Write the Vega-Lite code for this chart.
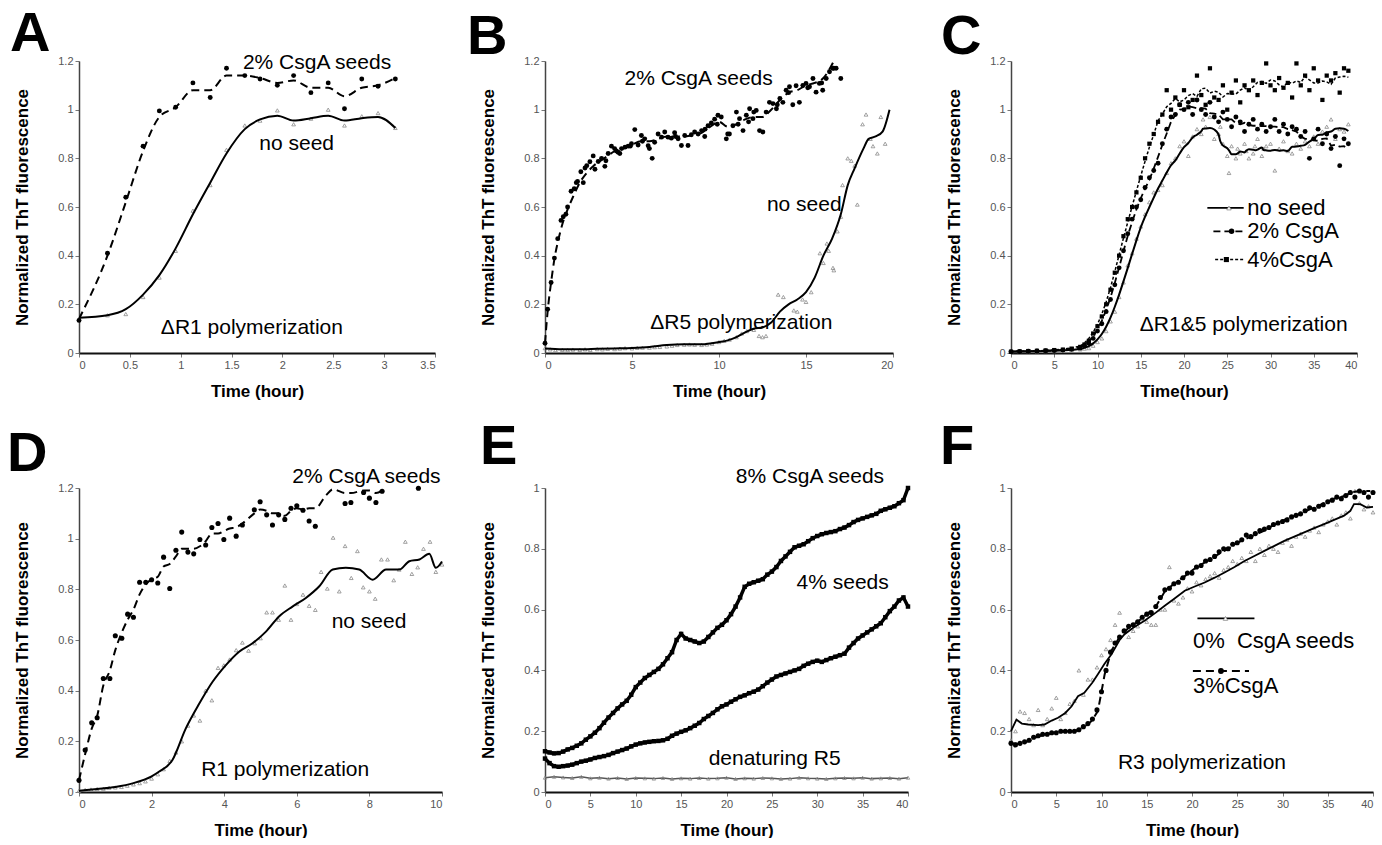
{
"$schema":"https://vega.github.io/schema/vega-lite/v6.json",
"padding":{"left":7,"top":6,"right":0,"bottom":0},
"background":"#ffffff",
"config":{"view":{"stroke":null},"font":"Liberation Sans",
"axis":{"grid":false,"labelFont":"Liberation Sans","labelFontSize":11,"labelColor":"#555","tickColor":"#777","tickSize":4,"titleFont":"Liberation Sans","titleFontSize":17,"titleFontWeight":"bold","titleColor":"#000"},
"axisX":{"domainColor":"#111","domainWidth":2,"titlePadding":13},
"axisY":{"domainColor":"#444","domainWidth":1.5,"titlePadding":26}},
"datasets":{
"A":[
{"s":"s","t":0,"v":0.134},{"s":"s","t":0.28,"v":0.41},{"s":"s","t":0.46,"v":0.64},{"s":"s","t":0.63,"v":0.85},{"s":"s","t":0.79,"v":0.995},{"s":"s","t":0.95,"v":1.01},{"s":"s","t":1.12,"v":1.11},{"s":"s","t":1.29,"v":1.05},{"s":"s","t":1.45,"v":1.17},{"s":"s","t":1.63,"v":1.14},{"s":"s","t":1.78,"v":1.126},{"s":"s","t":1.95,"v":1.1},{"s":"s","t":2.11,"v":1.14},{"s":"s","t":2.28,"v":1.07},{"s":"s","t":2.45,"v":1.11},{"s":"s","t":2.61,"v":1.004},{"s":"s","t":2.78,"v":1.126},{"s":"s","t":2.94,"v":1.096},{"s":"s","t":3.11,"v":1.126},
{"s":"sL","t":0,"v":0.14},{"s":"sL","t":0.28,"v":0.4},{"s":"sL","t":0.46,"v":0.62},{"s":"sL","t":0.63,"v":0.83},{"s":"sL","t":0.79,"v":0.97},{"s":"sL","t":0.95,"v":1.01},{"s":"sL","t":1.12,"v":1.08},{"s":"sL","t":1.29,"v":1.08},{"s":"sL","t":1.45,"v":1.14},{"s":"sL","t":1.63,"v":1.14},{"s":"sL","t":1.78,"v":1.13},{"s":"sL","t":1.95,"v":1.11},{"s":"sL","t":2.11,"v":1.12},{"s":"sL","t":2.28,"v":1.09},{"s":"sL","t":2.45,"v":1.09},{"s":"sL","t":2.61,"v":1.055},{"s":"sL","t":2.78,"v":1.09},{"s":"sL","t":2.94,"v":1.1},{"s":"sL","t":3.11,"v":1.13},
{"s":"n","t":0.28,"v":0.155},{"s":"n","t":0.46,"v":0.16},{"s":"n","t":0.63,"v":0.23},{"s":"n","t":0.79,"v":0.31},{"s":"n","t":0.95,"v":0.42},{"s":"n","t":1.12,"v":0.585},{"s":"n","t":1.29,"v":0.69},{"s":"n","t":1.45,"v":0.835},{"s":"n","t":1.63,"v":0.935},{"s":"n","t":1.78,"v":0.955},{"s":"n","t":1.95,"v":0.997},{"s":"n","t":2.11,"v":0.94},{"s":"n","t":2.28,"v":0.963},{"s":"n","t":2.45,"v":1.0},{"s":"n","t":2.61,"v":0.935},{"s":"n","t":2.78,"v":0.973},{"s":"n","t":2.94,"v":0.986},{"s":"n","t":3.11,"v":0.925},
{"s":"nL","t":0,"v":0.145},{"s":"nL","t":0.28,"v":0.155},{"s":"nL","t":0.46,"v":0.18},{"s":"nL","t":0.63,"v":0.24},{"s":"nL","t":0.79,"v":0.32},{"s":"nL","t":0.95,"v":0.43},{"s":"nL","t":1.12,"v":0.57},{"s":"nL","t":1.29,"v":0.7},{"s":"nL","t":1.45,"v":0.82},{"s":"nL","t":1.63,"v":0.92},{"s":"nL","t":1.78,"v":0.96},{"s":"nL","t":1.95,"v":0.975},{"s":"nL","t":2.11,"v":0.955},{"s":"nL","t":2.28,"v":0.965},{"s":"nL","t":2.45,"v":0.975},{"s":"nL","t":2.61,"v":0.955},{"s":"nL","t":2.78,"v":0.965},{"s":"nL","t":2.94,"v":0.97},{"s":"nL","t":3.11,"v":0.925}
],
"B":[
{"s":"s","t":0,"v":0.04},{"s":"s","t":0.15,"v":0.18},{"s":"s","t":0.35,"v":0.29},{"s":"s","t":0.54,"v":0.39},{"s":"s","t":0.73,"v":0.47},{"s":"s","t":0.92,"v":0.545},{"s":"s","t":1.05,"v":0.56},{"s":"s","t":1.2,"v":0.57},{"s":"s","t":1.3,"v":0.6},{"s":"s","t":1.5,"v":0.665},{"s":"s","t":1.68,"v":0.675},{"s":"s","t":1.8,"v":0.7},{"s":"s","t":1.87,"v":0.705},{"s":"s","t":2.06,"v":0.745},{"s":"s","t":2.2,"v":0.7},{"s":"s","t":2.3,"v":0.76},{"s":"s","t":2.4,"v":0.77},{"s":"s","t":2.58,"v":0.786},{"s":"s","t":2.77,"v":0.81},{"s":"s","t":2.87,"v":0.755},{"s":"s","t":3.06,"v":0.787},{"s":"s","t":3.25,"v":0.8},{"s":"s","t":3.44,"v":0.767},{"s":"s","t":3.5,"v":0.79},{"s":"s","t":3.63,"v":0.82},{"s":"s","t":3.82,"v":0.85},{"s":"s","t":4.0,"v":0.84},{"s":"s","t":4.1,"v":0.83},{"s":"s","t":4.2,"v":0.825},{"s":"s","t":4.3,"v":0.82},{"s":"s","t":4.4,"v":0.84},{"s":"s","t":4.6,"v":0.846},{"s":"s","t":4.78,"v":0.85},{"s":"s","t":4.9,"v":0.85},{"s":"s","t":4.97,"v":0.86},{"s":"s","t":5.16,"v":0.918},{"s":"s","t":5.35,"v":0.855},{"s":"s","t":5.54,"v":0.894},{"s":"s","t":5.6,"v":0.87},{"s":"s","t":5.73,"v":0.88},{"s":"s","t":5.93,"v":0.852},{"s":"s","t":6.0,"v":0.84},{"s":"s","t":6.16,"v":0.8},{"s":"s","t":6.3,"v":0.866},{"s":"s","t":6.5,"v":0.9},{"s":"s","t":6.7,"v":0.887},{"s":"s","t":6.88,"v":0.908},{"s":"s","t":7.07,"v":0.887},{"s":"s","t":7.26,"v":0.883},{"s":"s","t":7.45,"v":0.905},{"s":"s","t":7.5,"v":0.89},{"s":"s","t":7.65,"v":0.88},{"s":"s","t":7.84,"v":0.853},{"s":"s","t":8.03,"v":0.894},{"s":"s","t":8.22,"v":0.853},{"s":"s","t":8.41,"v":0.897},{"s":"s","t":8.6,"v":0.908},{"s":"s","t":8.8,"v":0.9},{"s":"s","t":9.0,"v":0.914},{"s":"s","t":9.18,"v":0.89},{"s":"s","t":9.2,"v":0.92},{"s":"s","t":9.37,"v":0.934},{"s":"s","t":9.56,"v":0.945},{"s":"s","t":9.75,"v":0.961},{"s":"s","t":9.9,"v":0.94},{"s":"s","t":9.94,"v":0.977},{"s":"s","t":10.13,"v":0.97},{"s":"s","t":10.42,"v":0.88},{"s":"s","t":10.5,"v":0.9},{"s":"s","t":10.6,"v":0.9},{"s":"s","t":10.8,"v":0.934},{"s":"s","t":11.0,"v":0.99},{"s":"s","t":11.1,"v":0.94},{"s":"s","t":11.18,"v":0.963},{"s":"s","t":11.38,"v":0.914},{"s":"s","t":11.57,"v":0.977},{"s":"s","t":11.7,"v":0.95},{"s":"s","t":11.76,"v":1.004},{"s":"s","t":11.95,"v":0.963},{"s":"s","t":12.0,"v":0.99},{"s":"s","t":12.14,"v":0.997},{"s":"s","t":12.33,"v":0.914},{"s":"s","t":12.52,"v":0.908},{"s":"s","t":12.71,"v":0.99},{"s":"s","t":12.9,"v":1.03},{"s":"s","t":13.1,"v":1.025},{"s":"s","t":13.3,"v":1.004},{"s":"s","t":13.35,"v":1.02},{"s":"s","t":13.5,"v":1.046},{"s":"s","t":13.67,"v":1.03},{"s":"s","t":13.86,"v":1.08},{"s":"s","t":14.0,"v":1.07},{"s":"s","t":14.05,"v":1.094},{"s":"s","t":14.24,"v":1.02},{"s":"s","t":14.43,"v":1.098},{"s":"s","t":14.62,"v":1.03},{"s":"s","t":14.82,"v":1.1},{"s":"s","t":15.0,"v":1.108},{"s":"s","t":15.1,"v":1.09},{"s":"s","t":15.2,"v":1.094},{"s":"s","t":15.4,"v":1.128},{"s":"s","t":15.58,"v":1.072},{"s":"s","t":15.77,"v":1.108},{"s":"s","t":15.9,"v":1.11},{"s":"s","t":15.96,"v":1.08},{"s":"s","t":16.16,"v":1.128},{"s":"s","t":16.35,"v":1.156},{"s":"s","t":16.54,"v":1.17},{"s":"s","t":16.6,"v":1.17},{"s":"s","t":16.73,"v":1.17},{"s":"s","t":17.0,"v":1.128},
{"s":"sL","t":0,"v":0.04},{"s":"sL","t":0.15,"v":0.17},{"s":"sL","t":0.35,"v":0.29},{"s":"sL","t":0.55,"v":0.39},{"s":"sL","t":0.75,"v":0.46},{"s":"sL","t":1,"v":0.53},{"s":"sL","t":1.3,"v":0.59},{"s":"sL","t":1.6,"v":0.64},{"s":"sL","t":2,"v":0.7},{"s":"sL","t":2.4,"v":0.74},{"s":"sL","t":2.8,"v":0.77},{"s":"sL","t":3.2,"v":0.79},{"s":"sL","t":3.6,"v":0.81},{"s":"sL","t":4,"v":0.83},{"s":"sL","t":4.5,"v":0.84},{"s":"sL","t":5,"v":0.855},{"s":"sL","t":5.5,"v":0.87},{"s":"sL","t":6,"v":0.87},{"s":"sL","t":6.5,"v":0.88},{"s":"sL","t":7,"v":0.89},{"s":"sL","t":7.5,"v":0.89},{"s":"sL","t":8,"v":0.89},{"s":"sL","t":8.5,"v":0.895},{"s":"sL","t":9,"v":0.905},{"s":"sL","t":9.5,"v":0.93},{"s":"sL","t":10,"v":0.95},{"s":"sL","t":10.5,"v":0.93},{"s":"sL","t":11,"v":0.94},{"s":"sL","t":11.5,"v":0.96},{"s":"sL","t":12,"v":0.97},{"s":"sL","t":12.5,"v":0.97},{"s":"sL","t":13,"v":1.0},{"s":"sL","t":13.5,"v":1.04},{"s":"sL","t":14,"v":1.07},{"s":"sL","t":14.5,"v":1.08},{"s":"sL","t":15,"v":1.1},{"s":"sL","t":15.5,"v":1.11},{"s":"sL","t":16,"v":1.13},{"s":"sL","t":16.6,"v":1.2},
{"s":"n","t":0,"v":0.02},{"s":"n","t":0.3,"v":0.015},{"s":"n","t":0.6,"v":0.012},{"s":"n","t":1,"v":0.013},{"s":"n","t":1.3,"v":0.012},{"s":"n","t":1.6,"v":0.014},{"s":"n","t":2,"v":0.013},{"s":"n","t":2.3,"v":0.015},{"s":"n","t":2.6,"v":0.013},{"s":"n","t":3,"v":0.016},{"s":"n","t":3.3,"v":0.015},{"s":"n","t":3.6,"v":0.017},{"s":"n","t":4,"v":0.016},{"s":"n","t":4.3,"v":0.018},{"s":"n","t":4.6,"v":0.02},{"s":"n","t":5,"v":0.019},{"s":"n","t":5.3,"v":0.021},{"s":"n","t":5.6,"v":0.022},{"s":"n","t":6,"v":0.022},{"s":"n","t":6.3,"v":0.024},{"s":"n","t":6.6,"v":0.025},{"s":"n","t":7,"v":0.027},{"s":"n","t":7.3,"v":0.03},{"s":"n","t":7.6,"v":0.033},{"s":"n","t":8,"v":0.034},{"s":"n","t":8.3,"v":0.035},{"s":"n","t":8.6,"v":0.034},{"s":"n","t":9,"v":0.033},{"s":"n","t":9.3,"v":0.035},{"s":"n","t":9.6,"v":0.038},{"s":"n","t":10,"v":0.045},{"s":"n","t":10.3,"v":0.05},{"s":"n","t":10.6,"v":0.055},{"s":"n","t":11,"v":0.065},{"s":"n","t":11.3,"v":0.08},{"s":"n","t":11.6,"v":0.09},{"s":"n","t":12,"v":0.095},{"s":"n","t":12.3,"v":0.07},{"s":"n","t":12.5,"v":0.065},{"s":"n","t":12.7,"v":0.07},{"s":"n","t":13.4,"v":0.24},{"s":"n","t":13.7,"v":0.23},{"s":"n","t":14.3,"v":0.175},{"s":"n","t":14.5,"v":0.17},{"s":"n","t":14.8,"v":0.22},{"s":"n","t":15.0,"v":0.21},{"s":"n","t":15.3,"v":0.25},{"s":"n","t":15.8,"v":0.41},{"s":"n","t":16.0,"v":0.37},{"s":"n","t":16.2,"v":0.45},{"s":"n","t":16.3,"v":0.42},{"s":"n","t":16.55,"v":0.35},{"s":"n","t":16.6,"v":0.34},{"s":"n","t":16.8,"v":0.5},{"s":"n","t":17.0,"v":0.56},{"s":"n","t":17.1,"v":0.69},{"s":"n","t":17.4,"v":0.8},{"s":"n","t":17.6,"v":0.79},{"s":"n","t":17.8,"v":0.77},{"s":"n","t":17.95,"v":0.61},{"s":"n","t":18.25,"v":0.94},{"s":"n","t":18.45,"v":0.98},{"s":"n","t":18.7,"v":0.88},{"s":"n","t":18.85,"v":0.85},{"s":"n","t":19.1,"v":0.82},{"s":"n","t":19.3,"v":0.97},{"s":"n","t":19.55,"v":0.86},
{"s":"nL","t":0,"v":0.018},{"s":"nL","t":1,"v":0.015},{"s":"nL","t":2,"v":0.015},{"s":"nL","t":3,"v":0.017},{"s":"nL","t":4,"v":0.019},{"s":"nL","t":5,"v":0.021},{"s":"nL","t":6,"v":0.025},{"s":"nL","t":7,"v":0.033},{"s":"nL","t":8,"v":0.036},{"s":"nL","t":9,"v":0.036},{"s":"nL","t":10,"v":0.045},{"s":"nL","t":10.5,"v":0.052},{"s":"nL","t":11,"v":0.065},{"s":"nL","t":11.5,"v":0.085},{"s":"nL","t":12,"v":0.1},{"s":"nL","t":12.5,"v":0.105},{"s":"nL","t":13,"v":0.125},{"s":"nL","t":13.5,"v":0.17},{"s":"nL","t":14,"v":0.2},{"s":"nL","t":14.5,"v":0.22},{"s":"nL","t":15,"v":0.25},{"s":"nL","t":15.5,"v":0.31},{"s":"nL","t":16,"v":0.4},{"s":"nL","t":16.5,"v":0.47},{"s":"nL","t":17,"v":0.57},{"s":"nL","t":17.4,"v":0.69},{"s":"nL","t":17.8,"v":0.76},{"s":"nL","t":18.3,"v":0.84},{"s":"nL","t":18.6,"v":0.88},{"s":"nL","t":19,"v":0.89},{"s":"nL","t":19.4,"v":0.91},{"s":"nL","t":19.8,"v":1.0}
],
"C":[
{"s":"n","t":0,"v":0.005},{"s":"n","t":1,"v":0.006},{"s":"n","t":2,"v":0.007},{"s":"n","t":3,"v":0.007},{"s":"n","t":4,"v":0.008},{"s":"n","t":5,"v":0.008},{"s":"n","t":6,"v":0.01},{"s":"n","t":7,"v":0.012},{"s":"n","t":8,"v":0.015},{"s":"n","t":8.5,"v":0.018},{"s":"n","t":9,"v":0.02},{"s":"n","t":9.5,"v":0.03},{"s":"n","t":10,"v":0.045},{"s":"n","t":10.5,"v":0.06},{"s":"n","t":11,"v":0.09},{"s":"n","t":11.5,"v":0.13},{"s":"n","t":12,"v":0.17},{"s":"n","t":12.5,"v":0.23},{"s":"n","t":13,"v":0.29},{"s":"n","t":13.5,"v":0.36},{"s":"n","t":14,"v":0.41},{"s":"n","t":14.5,"v":0.47},{"s":"n","t":15,"v":0.52},{"s":"n","t":15.5,"v":0.57},{"s":"n","t":16,"v":0.62},{"s":"n","t":16.5,"v":0.66},{"s":"n","t":17,"v":0.67},{"s":"n","t":17.5,"v":0.69},{"s":"n","t":18,"v":0.74},{"s":"n","t":18.5,"v":0.78},{"s":"n","t":19,"v":0.8},{"s":"n","t":19.5,"v":0.85},{"s":"n","t":20,"v":0.87},{"s":"n","t":20.5,"v":0.81},{"s":"n","t":21,"v":0.89},{"s":"n","t":21.5,"v":0.92},{"s":"n","t":22,"v":0.9},{"s":"n","t":22.2,"v":0.96},{"s":"n","t":22.5,"v":0.93},{"s":"n","t":23,"v":0.97},{"s":"n","t":23.5,"v":0.88},{"s":"n","t":24,"v":0.9},{"s":"n","t":24.2,"v":0.93},{"s":"n","t":24.5,"v":0.86},{"s":"n","t":25,"v":0.81},{"s":"n","t":25.2,"v":0.74},{"s":"n","t":25.5,"v":0.85},{"s":"n","t":26,"v":0.8},{"s":"n","t":26.2,"v":0.84},{"s":"n","t":26.5,"v":0.82},{"s":"n","t":27,"v":0.86},{"s":"n","t":27.2,"v":0.83},{"s":"n","t":27.5,"v":0.8},{"s":"n","t":28,"v":0.82},{"s":"n","t":28.2,"v":0.85},{"s":"n","t":28.5,"v":0.88},{"s":"n","t":29,"v":0.81},{"s":"n","t":29.2,"v":0.84},{"s":"n","t":29.5,"v":0.85},{"s":"n","t":30,"v":0.86},{"s":"n","t":30.5,"v":0.75},{"s":"n","t":31,"v":0.84},{"s":"n","t":31.5,"v":0.87},{"s":"n","t":32,"v":0.83},{"s":"n","t":32.5,"v":0.82},{"s":"n","t":33,"v":0.86},{"s":"n","t":33.5,"v":0.84},{"s":"n","t":34,"v":0.87},{"s":"n","t":34.5,"v":0.85},{"s":"n","t":35,"v":0.89},{"s":"n","t":35.5,"v":0.86},{"s":"n","t":36,"v":0.91},{"s":"n","t":36.5,"v":0.93},{"s":"n","t":37,"v":0.96},{"s":"n","t":37.5,"v":0.88},{"s":"n","t":38,"v":0.92},{"s":"n","t":38.5,"v":0.91},{"s":"n","t":39,"v":0.94},
{"s":"c2","t":0,"v":0.005},{"s":"c2","t":1,"v":0.006},{"s":"c2","t":2,"v":0.007},{"s":"c2","t":3,"v":0.008},{"s":"c2","t":4,"v":0.009},{"s":"c2","t":5,"v":0.01},{"s":"c2","t":6,"v":0.012},{"s":"c2","t":7,"v":0.015},{"s":"c2","t":8,"v":0.02},{"s":"c2","t":8.5,"v":0.03},{"s":"c2","t":9,"v":0.04},{"s":"c2","t":9.5,"v":0.06},{"s":"c2","t":10,"v":0.09},{"s":"c2","t":10.5,"v":0.12},{"s":"c2","t":11,"v":0.17},{"s":"c2","t":11.5,"v":0.22},{"s":"c2","t":12,"v":0.28},{"s":"c2","t":12.5,"v":0.35},{"s":"c2","t":13,"v":0.42},{"s":"c2","t":13.5,"v":0.49},{"s":"c2","t":14,"v":0.55},{"s":"c2","t":14.5,"v":0.6},{"s":"c2","t":15,"v":0.63},{"s":"c2","t":15.5,"v":0.68},{"s":"c2","t":16,"v":0.72},{"s":"c2","t":16.5,"v":0.75},{"s":"c2","t":17,"v":0.78},{"s":"c2","t":17.5,"v":0.86},{"s":"c2","t":18,"v":0.92},{"s":"c2","t":18.5,"v":0.97},{"s":"c2","t":19,"v":0.98},{"s":"c2","t":19.5,"v":1.02},{"s":"c2","t":20,"v":1.0},{"s":"c2","t":20.5,"v":1.03},{"s":"c2","t":21,"v":0.98},{"s":"c2","t":21.5,"v":1.04},{"s":"c2","t":22,"v":1.0},{"s":"c2","t":22.5,"v":0.98},{"s":"c2","t":23,"v":1.03},{"s":"c2","t":23.5,"v":0.97},{"s":"c2","t":24,"v":0.95},{"s":"c2","t":24.5,"v":0.99},{"s":"c2","t":25,"v":0.96},{"s":"c2","t":25.5,"v":0.93},{"s":"c2","t":26,"v":0.97},{"s":"c2","t":26.5,"v":0.95},{"s":"c2","t":27,"v":0.91},{"s":"c2","t":27.5,"v":0.94},{"s":"c2","t":28,"v":0.96},{"s":"c2","t":28.5,"v":0.92},{"s":"c2","t":29,"v":0.94},{"s":"c2","t":29.5,"v":0.91},{"s":"c2","t":30,"v":0.93},{"s":"c2","t":30.5,"v":0.96},{"s":"c2","t":31,"v":0.91},{"s":"c2","t":31.5,"v":0.94},{"s":"c2","t":32,"v":0.9},{"s":"c2","t":32.5,"v":0.93},{"s":"c2","t":33,"v":0.92},{"s":"c2","t":33.5,"v":0.89},{"s":"c2","t":34,"v":0.91},{"s":"c2","t":34.5,"v":0.8},{"s":"c2","t":35,"v":0.88},{"s":"c2","t":35.5,"v":0.92},{"s":"c2","t":36,"v":0.86},{"s":"c2","t":36.5,"v":0.9},{"s":"c2","t":37,"v":0.84},{"s":"c2","t":37.5,"v":0.89},{"s":"c2","t":38,"v":0.77},{"s":"c2","t":38.5,"v":0.88},{"s":"c2","t":39,"v":0.86},
{"s":"c4","t":0,"v":0.005},{"s":"c4","t":1,"v":0.006},{"s":"c4","t":2,"v":0.008},{"s":"c4","t":3,"v":0.009},{"s":"c4","t":4,"v":0.01},{"s":"c4","t":5,"v":0.012},{"s":"c4","t":6,"v":0.014},{"s":"c4","t":7,"v":0.018},{"s":"c4","t":8,"v":0.025},{"s":"c4","t":8.5,"v":0.035},{"s":"c4","t":9,"v":0.05},{"s":"c4","t":9.5,"v":0.08},{"s":"c4","t":10,"v":0.11},{"s":"c4","t":10.5,"v":0.15},{"s":"c4","t":11,"v":0.2},{"s":"c4","t":11.5,"v":0.26},{"s":"c4","t":12,"v":0.33},{"s":"c4","t":12.5,"v":0.4},{"s":"c4","t":13,"v":0.48},{"s":"c4","t":13.5,"v":0.55},{"s":"c4","t":14,"v":0.6},{"s":"c4","t":14.5,"v":0.66},{"s":"c4","t":15,"v":0.72},{"s":"c4","t":15.5,"v":0.8},{"s":"c4","t":16,"v":0.86},{"s":"c4","t":16.5,"v":0.9},{"s":"c4","t":17,"v":0.95},{"s":"c4","t":17.5,"v":0.98},{"s":"c4","t":18,"v":1.08},{"s":"c4","t":18.5,"v":1.0},{"s":"c4","t":19,"v":1.05},{"s":"c4","t":19.5,"v":1.02},{"s":"c4","t":20,"v":1.08},{"s":"c4","t":20.5,"v":1.01},{"s":"c4","t":21,"v":1.04},{"s":"c4","t":21.5,"v":1.14},{"s":"c4","t":22,"v":1.06},{"s":"c4","t":22.5,"v":1.02},{"s":"c4","t":23,"v":1.17},{"s":"c4","t":23.5,"v":1.05},{"s":"c4","t":24,"v":1.04},{"s":"c4","t":24.5,"v":1.1},{"s":"c4","t":25,"v":1.0},{"s":"c4","t":25.5,"v":1.07},{"s":"c4","t":26,"v":1.12},{"s":"c4","t":26.5,"v":1.03},{"s":"c4","t":27,"v":1.1},{"s":"c4","t":27.5,"v":1.08},{"s":"c4","t":28,"v":1.12},{"s":"c4","t":28.5,"v":1.06},{"s":"c4","t":29,"v":1.11},{"s":"c4","t":29.5,"v":1.19},{"s":"c4","t":30,"v":1.1},{"s":"c4","t":30.5,"v":1.08},{"s":"c4","t":31,"v":1.13},{"s":"c4","t":31.5,"v":1.09},{"s":"c4","t":32,"v":1.11},{"s":"c4","t":32.5,"v":1.05},{"s":"c4","t":33,"v":1.19},{"s":"c4","t":33.5,"v":1.1},{"s":"c4","t":34,"v":1.14},{"s":"c4","t":34.5,"v":1.08},{"s":"c4","t":35,"v":1.17},{"s":"c4","t":35.5,"v":1.12},{"s":"c4","t":36,"v":1.04},{"s":"c4","t":36.5,"v":1.14},{"s":"c4","t":37,"v":1.12},{"s":"c4","t":37.5,"v":1.15},{"s":"c4","t":38,"v":1.07},{"s":"c4","t":38.5,"v":1.17},{"s":"c4","t":39,"v":1.16}
],
"D":[
{"s":"s","t":0,"v":0.046},{"s":"s","t":0.17,"v":0.166},{"s":"s","t":0.35,"v":0.273},{"s":"s","t":0.5,"v":0.293},{"s":"s","t":0.67,"v":0.448},{"s":"s","t":0.85,"v":0.448},{"s":"s","t":1.0,"v":0.617},{"s":"s","t":1.18,"v":0.607},{"s":"s","t":1.34,"v":0.702},{"s":"s","t":1.5,"v":0.69},{"s":"s","t":1.67,"v":0.828},{"s":"s","t":1.84,"v":0.828},{"s":"s","t":2.0,"v":0.838},{"s":"s","t":2.17,"v":0.825},{"s":"s","t":2.33,"v":0.927},{"s":"s","t":2.5,"v":0.803},{"s":"s","t":2.67,"v":0.954},{"s":"s","t":2.83,"v":1.026},{"s":"s","t":3.0,"v":0.947},{"s":"s","t":3.16,"v":0.94},{"s":"s","t":3.33,"v":0.997},{"s":"s","t":3.49,"v":0.975},{"s":"s","t":3.66,"v":1.044},{"s":"s","t":3.83,"v":1.06},{"s":"s","t":3.99,"v":0.997},{"s":"s","t":4.15,"v":1.081},{"s":"s","t":4.33,"v":1.01},{"s":"s","t":4.5,"v":1.054},{"s":"s","t":4.83,"v":1.114},{"s":"s","t":4.99,"v":1.146},{"s":"s","t":5.17,"v":1.094},{"s":"s","t":5.33,"v":1.054},{"s":"s","t":5.5,"v":1.094},{"s":"s","t":5.67,"v":1.076},{"s":"s","t":5.84,"v":1.12},{"s":"s","t":6.0,"v":1.13},{"s":"s","t":6.17,"v":1.112},{"s":"s","t":6.34,"v":1.07},{"s":"s","t":6.51,"v":1.049},{"s":"s","t":7.33,"v":1.139},{"s":"s","t":7.49,"v":1.143},{"s":"s","t":7.84,"v":1.182},{"s":"s","t":8.0,"v":1.16},{"s":"s","t":8.18,"v":1.143},{"s":"s","t":8.35,"v":1.187},{"s":"s","t":9.35,"v":1.199},
{"s":"sL","t":0,"v":0.046},{"s":"sL","t":0.17,"v":0.15},{"s":"sL","t":0.35,"v":0.25},{"s":"sL","t":0.5,"v":0.3},{"s":"sL","t":0.67,"v":0.42},{"s":"sL","t":0.85,"v":0.48},{"s":"sL","t":1.0,"v":0.56},{"s":"sL","t":1.18,"v":0.63},{"s":"sL","t":1.34,"v":0.68},{"s":"sL","t":1.5,"v":0.72},{"s":"sL","t":1.67,"v":0.78},{"s":"sL","t":1.84,"v":0.82},{"s":"sL","t":2.0,"v":0.84},{"s":"sL","t":2.17,"v":0.85},{"s":"sL","t":2.33,"v":0.89},{"s":"sL","t":2.5,"v":0.9},{"s":"sL","t":2.67,"v":0.93},{"s":"sL","t":2.83,"v":0.96},{"s":"sL","t":3.0,"v":0.96},{"s":"sL","t":3.16,"v":0.96},{"s":"sL","t":3.33,"v":0.97},{"s":"sL","t":3.49,"v":0.99},{"s":"sL","t":3.66,"v":1.02},{"s":"sL","t":3.83,"v":1.02},{"s":"sL","t":3.99,"v":1.03},{"s":"sL","t":4.15,"v":1.04},{"s":"sL","t":4.33,"v":1.045},{"s":"sL","t":4.5,"v":1.06},{"s":"sL","t":4.83,"v":1.1},{"s":"sL","t":4.99,"v":1.115},{"s":"sL","t":5.17,"v":1.11},{"s":"sL","t":5.33,"v":1.1},{"s":"sL","t":5.5,"v":1.1},{"s":"sL","t":5.67,"v":1.09},{"s":"sL","t":5.84,"v":1.11},{"s":"sL","t":6.0,"v":1.12},{"s":"sL","t":6.17,"v":1.115},{"s":"sL","t":6.34,"v":1.12},{"s":"sL","t":6.51,"v":1.12},{"s":"sL","t":6.8,"v":1.17},{"s":"sL","t":7.0,"v":1.195},{"s":"sL","t":7.33,"v":1.18},{"s":"sL","t":7.49,"v":1.18},{"s":"sL","t":7.84,"v":1.19},{"s":"sL","t":8.0,"v":1.19},{"s":"sL","t":8.18,"v":1.18},{"s":"sL","t":8.35,"v":1.19},
{"s":"n","t":0,"v":0.005},{"s":"n","t":0.17,"v":0.008},{"s":"n","t":0.33,"v":0.01},{"s":"n","t":0.5,"v":0.012},{"s":"n","t":0.67,"v":0.013},{"s":"n","t":0.83,"v":0.017},{"s":"n","t":1.0,"v":0.018},{"s":"n","t":1.17,"v":0.02},{"s":"n","t":1.33,"v":0.025},{"s":"n","t":1.5,"v":0.03},{"s":"n","t":1.67,"v":0.035},{"s":"n","t":1.83,"v":0.042},{"s":"n","t":2.0,"v":0.053},{"s":"n","t":2.17,"v":0.07},{"s":"n","t":2.33,"v":0.09},{"s":"n","t":2.5,"v":0.123},{"s":"n","t":2.67,"v":0.156},{"s":"n","t":2.83,"v":0.2},{"s":"n","t":3.0,"v":0.262},{"s":"n","t":3.16,"v":0.302},{"s":"n","t":3.33,"v":0.282},{"s":"n","t":3.49,"v":0.4},{"s":"n","t":3.66,"v":0.362},{"s":"n","t":3.83,"v":0.49},{"s":"n","t":3.99,"v":0.5},{"s":"n","t":4.15,"v":0.523},{"s":"n","t":4.33,"v":0.56},{"s":"n","t":4.5,"v":0.59},{"s":"n","t":4.67,"v":0.558},{"s":"n","t":4.84,"v":0.587},{"s":"n","t":5.0,"v":0.607},{"s":"n","t":5.17,"v":0.709},{"s":"n","t":5.33,"v":0.709},{"s":"n","t":5.5,"v":0.68},{"s":"n","t":5.67,"v":0.815},{"s":"n","t":5.84,"v":0.68},{"s":"n","t":6.0,"v":0.742},{"s":"n","t":6.17,"v":0.779},{"s":"n","t":6.34,"v":0.735},{"s":"n","t":6.51,"v":0.719},{"s":"n","t":6.67,"v":0.869},{"s":"n","t":6.84,"v":0.803},{"s":"n","t":7.0,"v":1.004},{"s":"n","t":7.17,"v":0.792},{"s":"n","t":7.33,"v":0.971},{"s":"n","t":7.5,"v":0.845},{"s":"n","t":7.67,"v":0.951},{"s":"n","t":7.83,"v":0.808},{"s":"n","t":8.0,"v":0.792},{"s":"n","t":8.16,"v":0.763},{"s":"n","t":8.33,"v":0.918},{"s":"n","t":8.5,"v":0.918},{"s":"n","t":8.67,"v":0.836},{"s":"n","t":8.82,"v":0.878},{"s":"n","t":8.99,"v":0.988},{"s":"n","t":9.17,"v":0.861},{"s":"n","t":9.33,"v":0.887},{"s":"n","t":9.49,"v":0.96},{"s":"n","t":9.67,"v":0.988},{"s":"n","t":9.83,"v":0.869},{"s":"n","t":10.0,"v":0.898},
{"s":"nL","t":0,"v":0.005},{"s":"nL","t":0.5,"v":0.012},{"s":"nL","t":1,"v":0.02},{"s":"nL","t":1.5,"v":0.035},{"s":"nL","t":2.0,"v":0.062},{"s":"nL","t":2.2,"v":0.08},{"s":"nL","t":2.57,"v":0.125},{"s":"nL","t":2.94,"v":0.25},{"s":"nL","t":3.31,"v":0.348},{"s":"nL","t":3.68,"v":0.435},{"s":"nL","t":4.04,"v":0.5},{"s":"nL","t":4.41,"v":0.554},{"s":"nL","t":4.78,"v":0.587},{"s":"nL","t":5.15,"v":0.633},{"s":"nL","t":5.51,"v":0.693},{"s":"nL","t":5.88,"v":0.732},{"s":"nL","t":6.25,"v":0.766},{"s":"nL","t":6.62,"v":0.812},{"s":"nL","t":6.99,"v":0.878},{"s":"nL","t":7.35,"v":0.885},{"s":"nL","t":7.72,"v":0.878},{"s":"nL","t":8.09,"v":0.838},{"s":"nL","t":8.46,"v":0.878},{"s":"nL","t":8.82,"v":0.878},{"s":"nL","t":9.1,"v":0.911},{"s":"nL","t":9.38,"v":0.918},{"s":"nL","t":9.65,"v":0.94},{"s":"nL","t":9.83,"v":0.885},{"s":"nL","t":10,"v":0.91}
],
"E":[
{"s":"e8","t":0,"v":0.134},{"s":"e8","t":0.5,"v":0.13},{"s":"e8","t":1,"v":0.127},{"s":"e8","t":1.5,"v":0.128},{"s":"e8","t":2,"v":0.133},{"s":"e8","t":2.5,"v":0.14},{"s":"e8","t":3,"v":0.145},{"s":"e8","t":3.5,"v":0.152},{"s":"e8","t":4,"v":0.16},{"s":"e8","t":4.5,"v":0.172},{"s":"e8","t":5,"v":0.183},{"s":"e8","t":5.5,"v":0.195},{"s":"e8","t":6,"v":0.21},{"s":"e8","t":6.5,"v":0.228},{"s":"e8","t":7,"v":0.245},{"s":"e8","t":7.5,"v":0.26},{"s":"e8","t":8,"v":0.275},{"s":"e8","t":8.5,"v":0.288},{"s":"e8","t":9,"v":0.3},{"s":"e8","t":9.5,"v":0.32},{"s":"e8","t":10,"v":0.345},{"s":"e8","t":10.5,"v":0.36},{"s":"e8","t":11,"v":0.375},{"s":"e8","t":11.5,"v":0.385},{"s":"e8","t":12,"v":0.395},{"s":"e8","t":12.5,"v":0.405},{"s":"e8","t":13,"v":0.42},{"s":"e8","t":13.5,"v":0.44},{"s":"e8","t":14,"v":0.46},{"s":"e8","t":14.5,"v":0.5},{"s":"e8","t":15,"v":0.52},{"s":"e8","t":15.5,"v":0.505},{"s":"e8","t":16,"v":0.5},{"s":"e8","t":16.5,"v":0.495},{"s":"e8","t":17,"v":0.49},{"s":"e8","t":17.5,"v":0.495},{"s":"e8","t":18,"v":0.51},{"s":"e8","t":18.5,"v":0.525},{"s":"e8","t":19,"v":0.54},{"s":"e8","t":19.5,"v":0.55},{"s":"e8","t":20,"v":0.565},{"s":"e8","t":20.5,"v":0.585},{"s":"e8","t":21,"v":0.61},{"s":"e8","t":21.5,"v":0.64},{"s":"e8","t":22,"v":0.675},{"s":"e8","t":22.5,"v":0.685},{"s":"e8","t":23,"v":0.69},{"s":"e8","t":23.5,"v":0.695},{"s":"e8","t":24,"v":0.7},{"s":"e8","t":24.5,"v":0.715},{"s":"e8","t":25,"v":0.725},{"s":"e8","t":25.5,"v":0.74},{"s":"e8","t":26,"v":0.76},{"s":"e8","t":26.5,"v":0.775},{"s":"e8","t":27,"v":0.79},{"s":"e8","t":27.5,"v":0.805},{"s":"e8","t":28,"v":0.81},{"s":"e8","t":28.5,"v":0.815},{"s":"e8","t":29,"v":0.825},{"s":"e8","t":29.5,"v":0.835},{"s":"e8","t":30,"v":0.842},{"s":"e8","t":30.5,"v":0.848},{"s":"e8","t":31,"v":0.852},{"s":"e8","t":31.5,"v":0.855},{"s":"e8","t":32,"v":0.858},{"s":"e8","t":32.5,"v":0.865},{"s":"e8","t":33,"v":0.87},{"s":"e8","t":33.5,"v":0.878},{"s":"e8","t":34,"v":0.888},{"s":"e8","t":34.5,"v":0.895},{"s":"e8","t":35,"v":0.9},{"s":"e8","t":35.5,"v":0.905},{"s":"e8","t":36,"v":0.91},{"s":"e8","t":36.5,"v":0.915},{"s":"e8","t":37,"v":0.925},{"s":"e8","t":37.5,"v":0.93},{"s":"e8","t":38,"v":0.935},{"s":"e8","t":38.5,"v":0.94},{"s":"e8","t":39,"v":0.95},{"s":"e8","t":39.5,"v":0.96},{"s":"e8","t":40,"v":1.0},
{"s":"e4","t":0,"v":0.11},{"s":"e4","t":0.5,"v":0.095},{"s":"e4","t":1,"v":0.085},{"s":"e4","t":1.5,"v":0.083},{"s":"e4","t":2,"v":0.085},{"s":"e4","t":2.5,"v":0.087},{"s":"e4","t":3,"v":0.09},{"s":"e4","t":3.5,"v":0.095},{"s":"e4","t":4,"v":0.1},{"s":"e4","t":4.5,"v":0.103},{"s":"e4","t":5,"v":0.107},{"s":"e4","t":5.5,"v":0.112},{"s":"e4","t":6,"v":0.115},{"s":"e4","t":6.5,"v":0.118},{"s":"e4","t":7,"v":0.122},{"s":"e4","t":7.5,"v":0.128},{"s":"e4","t":8,"v":0.133},{"s":"e4","t":8.5,"v":0.138},{"s":"e4","t":9,"v":0.143},{"s":"e4","t":9.5,"v":0.15},{"s":"e4","t":10,"v":0.156},{"s":"e4","t":10.5,"v":0.16},{"s":"e4","t":11,"v":0.163},{"s":"e4","t":11.5,"v":0.165},{"s":"e4","t":12,"v":0.167},{"s":"e4","t":12.5,"v":0.168},{"s":"e4","t":13,"v":0.17},{"s":"e4","t":13.5,"v":0.175},{"s":"e4","t":14,"v":0.185},{"s":"e4","t":14.5,"v":0.192},{"s":"e4","t":15,"v":0.198},{"s":"e4","t":15.5,"v":0.203},{"s":"e4","t":16,"v":0.21},{"s":"e4","t":16.5,"v":0.218},{"s":"e4","t":17,"v":0.227},{"s":"e4","t":17.5,"v":0.24},{"s":"e4","t":18,"v":0.25},{"s":"e4","t":18.5,"v":0.26},{"s":"e4","t":19,"v":0.272},{"s":"e4","t":19.5,"v":0.282},{"s":"e4","t":20,"v":0.288},{"s":"e4","t":20.5,"v":0.297},{"s":"e4","t":21,"v":0.305},{"s":"e4","t":21.5,"v":0.313},{"s":"e4","t":22,"v":0.318},{"s":"e4","t":22.5,"v":0.325},{"s":"e4","t":23,"v":0.33},{"s":"e4","t":23.5,"v":0.337},{"s":"e4","t":24,"v":0.348},{"s":"e4","t":24.5,"v":0.36},{"s":"e4","t":25,"v":0.37},{"s":"e4","t":25.5,"v":0.38},{"s":"e4","t":26,"v":0.385},{"s":"e4","t":26.5,"v":0.39},{"s":"e4","t":27,"v":0.395},{"s":"e4","t":27.5,"v":0.4},{"s":"e4","t":28,"v":0.405},{"s":"e4","t":28.5,"v":0.415},{"s":"e4","t":29,"v":0.422},{"s":"e4","t":29.5,"v":0.428},{"s":"e4","t":30,"v":0.432},{"s":"e4","t":30.5,"v":0.428},{"s":"e4","t":31,"v":0.434},{"s":"e4","t":31.5,"v":0.44},{"s":"e4","t":32,"v":0.445},{"s":"e4","t":32.5,"v":0.45},{"s":"e4","t":33,"v":0.455},{"s":"e4","t":33.5,"v":0.475},{"s":"e4","t":34,"v":0.49},{"s":"e4","t":34.5,"v":0.505},{"s":"e4","t":35,"v":0.515},{"s":"e4","t":35.5,"v":0.525},{"s":"e4","t":36,"v":0.535},{"s":"e4","t":36.5,"v":0.545},{"s":"e4","t":37,"v":0.555},{"s":"e4","t":37.5,"v":0.575},{"s":"e4","t":38,"v":0.595},{"s":"e4","t":38.5,"v":0.61},{"s":"e4","t":39,"v":0.63},{"s":"e4","t":39.5,"v":0.64},{"s":"e4","t":40,"v":0.61},
{"s":"d","t":0,"v":0.047},{"s":"d","t":1,"v":0.05},{"s":"d","t":2,"v":0.048},{"s":"d","t":3,"v":0.046},{"s":"d","t":4,"v":0.05},{"s":"d","t":5,"v":0.045},{"s":"d","t":6,"v":0.047},{"s":"d","t":7,"v":0.044},{"s":"d","t":8,"v":0.046},{"s":"d","t":9,"v":0.043},{"s":"d","t":10,"v":0.046},{"s":"d","t":11,"v":0.045},{"s":"d","t":12,"v":0.044},{"s":"d","t":13,"v":0.046},{"s":"d","t":14,"v":0.043},{"s":"d","t":15,"v":0.045},{"s":"d","t":16,"v":0.044},{"s":"d","t":17,"v":0.046},{"s":"d","t":18,"v":0.044},{"s":"d","t":19,"v":0.045},{"s":"d","t":20,"v":0.047},{"s":"d","t":21,"v":0.043},{"s":"d","t":22,"v":0.045},{"s":"d","t":23,"v":0.044},{"s":"d","t":24,"v":0.046},{"s":"d","t":25,"v":0.045},{"s":"d","t":26,"v":0.043},{"s":"d","t":27,"v":0.044},{"s":"d","t":28,"v":0.047},{"s":"d","t":29,"v":0.045},{"s":"d","t":30,"v":0.044},{"s":"d","t":31,"v":0.043},{"s":"d","t":32,"v":0.045},{"s":"d","t":33,"v":0.046},{"s":"d","t":34,"v":0.045},{"s":"d","t":35,"v":0.047},{"s":"d","t":36,"v":0.044},{"s":"d","t":37,"v":0.045},{"s":"d","t":38,"v":0.046},{"s":"d","t":39,"v":0.044},{"s":"d","t":40,"v":0.047}
],
"F":[
{"s":"c3","t":0,"v":0.16},{"s":"c3","t":0.5,"v":0.155},{"s":"c3","t":1,"v":0.16},{"s":"c3","t":1.5,"v":0.165},{"s":"c3","t":2,"v":0.17},{"s":"c3","t":2.5,"v":0.18},{"s":"c3","t":3,"v":0.185},{"s":"c3","t":3.5,"v":0.19},{"s":"c3","t":4,"v":0.19},{"s":"c3","t":4.5,"v":0.195},{"s":"c3","t":5,"v":0.195},{"s":"c3","t":5.5,"v":0.2},{"s":"c3","t":6,"v":0.2},{"s":"c3","t":6.5,"v":0.2},{"s":"c3","t":7,"v":0.2},{"s":"c3","t":7.5,"v":0.205},{"s":"c3","t":8,"v":0.215},{"s":"c3","t":8.5,"v":0.225},{"s":"c3","t":9,"v":0.24},{"s":"c3","t":9.5,"v":0.27},{"s":"c3","t":10,"v":0.33},{"s":"c3","t":10.5,"v":0.4},{"s":"c3","t":11,"v":0.46},{"s":"c3","t":11.5,"v":0.49},{"s":"c3","t":12,"v":0.51},{"s":"c3","t":12.5,"v":0.53},{"s":"c3","t":13,"v":0.545},{"s":"c3","t":13.5,"v":0.55},{"s":"c3","t":14,"v":0.56},{"s":"c3","t":14.5,"v":0.575},{"s":"c3","t":15,"v":0.585},{"s":"c3","t":15.5,"v":0.59},{"s":"c3","t":16,"v":0.61},{"s":"c3","t":16.5,"v":0.64},{"s":"c3","t":17,"v":0.665},{"s":"c3","t":17.5,"v":0.67},{"s":"c3","t":18,"v":0.685},{"s":"c3","t":18.5,"v":0.69},{"s":"c3","t":19,"v":0.705},{"s":"c3","t":19.5,"v":0.72},{"s":"c3","t":20,"v":0.72},{"s":"c3","t":20.5,"v":0.74},{"s":"c3","t":21,"v":0.745},{"s":"c3","t":21.5,"v":0.76},{"s":"c3","t":22,"v":0.765},{"s":"c3","t":22.5,"v":0.775},{"s":"c3","t":23,"v":0.79},{"s":"c3","t":23.5,"v":0.8},{"s":"c3","t":24,"v":0.8},{"s":"c3","t":24.5,"v":0.815},{"s":"c3","t":25,"v":0.82},{"s":"c3","t":25.5,"v":0.83},{"s":"c3","t":26,"v":0.845},{"s":"c3","t":26.5,"v":0.84},{"s":"c3","t":27,"v":0.85},{"s":"c3","t":27.5,"v":0.86},{"s":"c3","t":28,"v":0.865},{"s":"c3","t":28.5,"v":0.87},{"s":"c3","t":29,"v":0.88},{"s":"c3","t":29.5,"v":0.885},{"s":"c3","t":30,"v":0.89},{"s":"c3","t":30.5,"v":0.895},{"s":"c3","t":31,"v":0.905},{"s":"c3","t":31.5,"v":0.91},{"s":"c3","t":32,"v":0.915},{"s":"c3","t":32.5,"v":0.925},{"s":"c3","t":33,"v":0.935},{"s":"c3","t":33.5,"v":0.93},{"s":"c3","t":34,"v":0.94},{"s":"c3","t":34.5,"v":0.945},{"s":"c3","t":35,"v":0.955},{"s":"c3","t":35.5,"v":0.96},{"s":"c3","t":36,"v":0.97},{"s":"c3","t":36.5,"v":0.965},{"s":"c3","t":37,"v":0.975},{"s":"c3","t":37.5,"v":0.985},{"s":"c3","t":38,"v":0.97},{"s":"c3","t":38.5,"v":0.99},{"s":"c3","t":39,"v":0.985},{"s":"c3","t":39.5,"v":0.97},{"s":"c3","t":40,"v":0.985},
{"s":"c3L","t":0,"v":0.16},{"s":"c3L","t":1,"v":0.158},{"s":"c3L","t":2,"v":0.168},{"s":"c3L","t":3,"v":0.183},{"s":"c3L","t":4,"v":0.19},{"s":"c3L","t":5,"v":0.195},{"s":"c3L","t":6,"v":0.2},{"s":"c3L","t":7,"v":0.2},{"s":"c3L","t":8,"v":0.212},{"s":"c3L","t":8.9,"v":0.233},{"s":"c3L","t":9.6,"v":0.266},{"s":"c3L","t":10,"v":0.33},{"s":"c3L","t":10.35,"v":0.387},{"s":"c3L","t":11.1,"v":0.465},{"s":"c3L","t":12,"v":0.51},{"s":"c3L","t":13,"v":0.54},{"s":"c3L","t":14,"v":0.56},{"s":"c3L","t":15,"v":0.585},{"s":"c3L","t":16,"v":0.61},{"s":"c3L","t":17,"v":0.66},{"s":"c3L","t":18,"v":0.685},{"s":"c3L","t":19.2,"v":0.71},{"s":"c3L","t":20.3,"v":0.735},{"s":"c3L","t":21.4,"v":0.755},{"s":"c3L","t":22.8,"v":0.78},{"s":"c3L","t":24,"v":0.8},{"s":"c3L","t":25,"v":0.82},{"s":"c3L","t":26.5,"v":0.84},{"s":"c3L","t":28,"v":0.86},{"s":"c3L","t":29,"v":0.878},{"s":"c3L","t":30.2,"v":0.895},{"s":"c3L","t":31,"v":0.905},{"s":"c3L","t":32,"v":0.915},{"s":"c3L","t":33,"v":0.93},{"s":"c3L","t":33.8,"v":0.94},{"s":"c3L","t":35,"v":0.955},{"s":"c3L","t":35.7,"v":0.965},{"s":"c3L","t":37,"v":0.975},{"s":"c3L","t":37.5,"v":0.985},{"s":"c3L","t":38.5,"v":0.99},{"s":"c3L","t":39.7,"v":0.99},
{"s":"c0","t":0,"v":0.17},{"s":"c0","t":0.5,"v":0.2},{"s":"c0","t":1,"v":0.265},{"s":"c0","t":1.5,"v":0.26},{"s":"c0","t":2,"v":0.24},{"s":"c0","t":2.5,"v":0.22},{"s":"c0","t":3,"v":0.27},{"s":"c0","t":3.5,"v":0.22},{"s":"c0","t":4,"v":0.24},{"s":"c0","t":4.5,"v":0.275},{"s":"c0","t":5,"v":0.31},{"s":"c0","t":5.5,"v":0.24},{"s":"c0","t":6,"v":0.26},{"s":"c0","t":6.5,"v":0.29},{"s":"c0","t":7,"v":0.3},{"s":"c0","t":7.5,"v":0.4},{"s":"c0","t":8,"v":0.32},{"s":"c0","t":8.5,"v":0.37},{"s":"c0","t":9,"v":0.37},{"s":"c0","t":9.5,"v":0.41},{"s":"c0","t":10,"v":0.45},{"s":"c0","t":10.5,"v":0.47},{"s":"c0","t":11,"v":0.5},{"s":"c0","t":11.5,"v":0.55},{"s":"c0","t":12,"v":0.59},{"s":"c0","t":12.5,"v":0.53},{"s":"c0","t":13,"v":0.51},{"s":"c0","t":13.5,"v":0.53},{"s":"c0","t":14,"v":0.545},{"s":"c0","t":14.5,"v":0.57},{"s":"c0","t":15,"v":0.56},{"s":"c0","t":15.5,"v":0.55},{"s":"c0","t":16,"v":0.55},{"s":"c0","t":16.5,"v":0.6},{"s":"c0","t":17,"v":0.6},{"s":"c0","t":17.5,"v":0.74},{"s":"c0","t":18,"v":0.63},{"s":"c0","t":18.5,"v":0.62},{"s":"c0","t":19,"v":0.64},{"s":"c0","t":19.5,"v":0.67},{"s":"c0","t":20,"v":0.66},{"s":"c0","t":20.5,"v":0.69},{"s":"c0","t":21,"v":0.68},{"s":"c0","t":21.5,"v":0.7},{"s":"c0","t":22,"v":0.71},{"s":"c0","t":22.5,"v":0.72},{"s":"c0","t":23,"v":0.705},{"s":"c0","t":23.5,"v":0.73},{"s":"c0","t":24,"v":0.74},{"s":"c0","t":24.5,"v":0.76},{"s":"c0","t":25,"v":0.75},{"s":"c0","t":25.5,"v":0.77},{"s":"c0","t":26,"v":0.76},{"s":"c0","t":26.5,"v":0.79},{"s":"c0","t":27,"v":0.76},{"s":"c0","t":27.5,"v":0.8},{"s":"c0","t":28,"v":0.78},{"s":"c0","t":28.5,"v":0.81},{"s":"c0","t":29,"v":0.8},{"s":"c0","t":29.5,"v":0.79},{"s":"c0","t":30,"v":0.82},{"s":"c0","t":30.5,"v":0.83},{"s":"c0","t":31,"v":0.81},{"s":"c0","t":31.5,"v":0.84},{"s":"c0","t":32,"v":0.85},{"s":"c0","t":32.5,"v":0.84},{"s":"c0","t":33,"v":0.86},{"s":"c0","t":33.5,"v":0.87},{"s":"c0","t":34,"v":0.855},{"s":"c0","t":34.5,"v":0.88},{"s":"c0","t":35,"v":0.89},{"s":"c0","t":35.5,"v":0.9},{"s":"c0","t":36,"v":0.88},{"s":"c0","t":36.5,"v":0.91},{"s":"c0","t":37,"v":0.92},{"s":"c0","t":37.5,"v":0.9},{"s":"c0","t":38,"v":0.99},{"s":"c0","t":38.5,"v":0.95},{"s":"c0","t":39,"v":0.93},{"s":"c0","t":39.5,"v":0.94},{"s":"c0","t":40,"v":0.92},
{"s":"c0L","t":0,"v":0.2},{"s":"c0L","t":0.6,"v":0.238},{"s":"c0L","t":1.2,"v":0.225},{"s":"c0L","t":1.9,"v":0.222},{"s":"c0L","t":3,"v":0.22},{"s":"c0L","t":3.7,"v":0.222},{"s":"c0L","t":4.5,"v":0.235},{"s":"c0L","t":5.2,"v":0.244},{"s":"c0L","t":6,"v":0.26},{"s":"c0L","t":6.7,"v":0.282},{"s":"c0L","t":7.4,"v":0.315},{"s":"c0L","t":8.1,"v":0.326},{"s":"c0L","t":9,"v":0.36},{"s":"c0L","t":9.6,"v":0.387},{"s":"c0L","t":10.3,"v":0.42},{"s":"c0L","t":11.1,"v":0.453},{"s":"c0L","t":12,"v":0.5},{"s":"c0L","t":12.55,"v":0.519},{"s":"c0L","t":13.5,"v":0.54},{"s":"c0L","t":14.75,"v":0.563},{"s":"c0L","t":16,"v":0.59},{"s":"c0L","t":16.95,"v":0.612},{"s":"c0L","t":18,"v":0.635},{"s":"c0L","t":19.2,"v":0.662},{"s":"c0L","t":20.3,"v":0.676},{"s":"c0L","t":21.4,"v":0.689},{"s":"c0L","t":22.5,"v":0.705},{"s":"c0L","t":23.6,"v":0.722},{"s":"c0L","t":24.7,"v":0.74},{"s":"c0L","t":25.8,"v":0.76},{"s":"c0L","t":27,"v":0.778},{"s":"c0L","t":28,"v":0.793},{"s":"c0L","t":29,"v":0.808},{"s":"c0L","t":30.2,"v":0.826},{"s":"c0L","t":31.3,"v":0.84},{"s":"c0L","t":32.4,"v":0.854},{"s":"c0L","t":33.5,"v":0.868},{"s":"c0L","t":34.6,"v":0.881},{"s":"c0L","t":35.7,"v":0.895},{"s":"c0L","t":36.8,"v":0.909},{"s":"c0L","t":37.5,"v":0.925},{"s":"c0L","t":37.9,"v":0.947},{"s":"c0L","t":38.6,"v":0.947},{"s":"c0L","t":39.3,"v":0.936},{"s":"c0L","t":40,"v":0.938}
],
"notes":[
{"p":"A","t":2.34,"v":1.19,"text":"2% CsgA seeds"},{"p":"A","t":2.14,"v":0.86,"text":"no seed"},{"p":"A","t":1.7,"v":0.104,"text":"ΔR1 polymerization"},
{"p":"B","t":8.83,"v":1.128,"text":"2% CsgA seeds"},{"p":"B","t":14.9,"v":0.61,"text":"no seed"},{"p":"B","t":11.28,"v":0.123,"text":"ΔR5 polymerization"},
{"p":"C","t":26.9,"v":0.114,"text":"ΔR1&5 polymerization"},
{"p":"D","t":7.92,"v":1.245,"text":"2% CsgA seeds"},{"p":"D","t":7.99,"v":0.673,"text":"no seed"},{"p":"D","t":5.68,"v":0.087,"text":"R1 polymerization"},
{"p":"E","t":29.2,"v":1.035,"text":"8% CsgA seeds"},{"p":"E","t":32.8,"v":0.688,"text":"4% seeds"},{"p":"E","t":25.3,"v":0.11,"text":"denaturing R5"},
{"p":"F","t":21.1,"v":0.096,"text":"R3 polymerization"}
],
"legtext":[
{"p":"C","t":27.3,"v":0.596,"text":"no seed"},{"p":"C","t":27.3,"v":0.5,"text":"2% CsgA"},{"p":"C","t":27.3,"v":0.384,"text":"4%CsgA"},
{"p":"F","t":20.1,"v":0.497,"text":"0%\u00a0 CsgA seeds"},{"p":"F","t":20.1,"v":0.35,"text":"3%CsgA"}
],
"legline":[
{"p":"C","s":"n","t":22.7,"t2":26.9,"v":0.596},{"p":"C","s":"c2","t":23.4,"t2":26.9,"v":0.5},{"p":"C","s":"c4","t":23.6,"t2":27.0,"v":0.384},
{"p":"F","s":"c0","t":20.6,"t2":26.9,"v":0.571},{"p":"F","s":"c3","t":20.1,"t2":26.3,"v":0.398}
],
"legmark":[
{"p":"C","s":"n","t":25.2,"v":0.596},{"p":"C","s":"c2","t":25.5,"v":0.5},{"p":"C","s":"c4","t":24.9,"v":0.384},
{"p":"F","s":"c0","t":23.7,"v":0.571},{"p":"F","s":"c3","t":23.2,"v":0.398}
]
},
"columns":3,
"align":"each",
"bounds":"flush",
"spacing":{"row":135,"column":103},
"concat":[
{"width":356,"height":292,
"title":{"text":"A","anchor":"start","frame":"group","dx":-69,"offset":-55,"baseline":"alphabetic","fontSize":56,"fontWeight":"bold","font":"Liberation Sans","color":"#000"},
"encoding":{"x":{"field":"t","type":"quantitative","scale":{"domain":[0,3.5],"nice":false,"zero":false},"axis":{"values":[0,0.5,1,1.5,2,2.5,3,3.5],"format":"~r","title":"Time (hour)"}},
"y":{"field":"v","type":"quantitative","scale":{"domain":[0,1.2],"nice":false},"axis":{"values":[0,0.2,0.4,0.6,0.8,1,1.2],"format":"~r","title":"Normalized ThT fluorescence"}}},
"layer":[
{"data":{"name":"A"},"transform":[{"filter":"datum.s=='n'"}],"mark":{"type":"point","shape":"triangle-up","filled":false,"size":14,"stroke":"#8a8a8a","strokeWidth":0.8,"opacity":1}},
{"data":{"name":"A"},"transform":[{"filter":"datum.s=='nL'"}],"mark":{"type":"line","color":"#000","strokeWidth":2,"interpolate":"monotone"}},
{"data":{"name":"A"},"transform":[{"filter":"datum.s=='s'"}],"mark":{"type":"circle","size":24,"color":"#000","opacity":1}},
{"data":{"name":"A"},"transform":[{"filter":"datum.s=='sL'"}],"mark":{"type":"line","color":"#000","strokeWidth":2,"strokeDash":[8,5],"interpolate":"monotone"}},
{"data":{"name":"notes"},"transform":[{"filter":"datum.p=='A'"}],"mark":{"type":"text","fontSize":21,"font":"Liberation Sans","align":"center","baseline":"middle","color":"#000"},"encoding":{"text":{"field":"text","type":"nominal"}}}
]},
{"width":348,"height":292,
"title":{"text":"B","anchor":"start","frame":"group","dx":-78,"offset":-55,"baseline":"alphabetic","fontSize":56,"fontWeight":"bold","font":"Liberation Sans","color":"#000"},
"encoding":{"x":{"field":"t","type":"quantitative","scale":{"domain":[0,20],"nice":false,"zero":false},"axis":{"values":[0,5,10,15,20],"format":"~r","title":"Time (hour)"}},
"y":{"field":"v","type":"quantitative","scale":{"domain":[0,1.2],"nice":false},"axis":{"values":[0,0.2,0.4,0.6,0.8,1,1.2],"format":"~r","title":"Normalized ThT fluorescence"}}},
"layer":[
{"data":{"name":"B"},"transform":[{"filter":"datum.s=='n'"}],"mark":{"type":"point","shape":"triangle-up","filled":false,"size":14,"stroke":"#8a8a8a","strokeWidth":0.8,"opacity":1}},
{"data":{"name":"B"},"transform":[{"filter":"datum.s=='nL'"}],"mark":{"type":"line","color":"#000","strokeWidth":2,"interpolate":"monotone"}},
{"data":{"name":"B"},"transform":[{"filter":"datum.s=='s'"}],"mark":{"type":"circle","size":24,"color":"#000","opacity":1}},
{"data":{"name":"B"},"transform":[{"filter":"datum.s=='sL'"}],"mark":{"type":"line","color":"#000","strokeWidth":2,"strokeDash":[8,5],"interpolate":"monotone"}},
{"data":{"name":"notes"},"transform":[{"filter":"datum.p=='B'"}],"mark":{"type":"text","fontSize":21,"font":"Liberation Sans","align":"center","baseline":"middle","color":"#000"},"encoding":{"text":{"field":"text","type":"nominal"}}}
]},
{"width":346,"height":292,
"title":{"text":"C","anchor":"start","frame":"group","dx":-70,"offset":-55,"baseline":"alphabetic","fontSize":56,"fontWeight":"bold","font":"Liberation Sans","color":"#000"},
"encoding":{"x":{"field":"t","type":"quantitative","scale":{"domain":[0,40],"nice":false,"zero":false},"axis":{"values":[0,5,10,15,20,25,30,35,40],"format":"~r","title":"Time(hour)"}},
"y":{"field":"v","type":"quantitative","scale":{"domain":[0,1.2],"nice":false},"axis":{"values":[0,0.2,0.4,0.6,0.8,1,1.2],"format":"~r","title":"Normalized ThT fluorescence"}}},
"layer":[
{"data":{"name":"C"},"transform":[{"filter":"datum.s=='n'"}],"mark":{"type":"point","shape":"triangle-up","filled":false,"size":14,"stroke":"#8a8a8a","strokeWidth":0.8,"opacity":1}},
{"data":{"name":"C"},"transform":[{"filter":"datum.s=='c2'"}],"mark":{"type":"circle","size":24,"color":"#000","opacity":1}},
{"data":{"name":"C"},"transform":[{"filter":"datum.s=='c4'"}],"mark":{"type":"square","size":18,"color":"#000","opacity":1}},
{"data":{"name":"C"},"transform":[{"filter":"datum.s=='n'"},{"window":[{"op":"mean","field":"v","as":"m"}],"sort":[{"field":"t"}],"frame":[-3,3]}],"mark":{"type":"line","color":"#000","strokeWidth":2,"interpolate":"monotone"},"encoding":{"y":{"field":"m","type":"quantitative","title":"Normalized ThT fluorescence"}}},
{"data":{"name":"C"},"transform":[{"filter":"datum.s=='c2'"},{"window":[{"op":"mean","field":"v","as":"m"}],"sort":[{"field":"t"}],"frame":[-2,2]}],"mark":{"type":"line","color":"#000","strokeWidth":1.8,"strokeDash":[7,4]},"encoding":{"y":{"field":"m","type":"quantitative","title":"Normalized ThT fluorescence"}}},
{"data":{"name":"C"},"transform":[{"filter":"datum.s=='c4'"},{"window":[{"op":"mean","field":"v","as":"m"}],"sort":[{"field":"t"}],"frame":[-2,2]}],"mark":{"type":"line","color":"#000","strokeWidth":1.5,"strokeDash":[3,2]},"encoding":{"y":{"field":"m","type":"quantitative","title":"Normalized ThT fluorescence"}}},
{"data":{"name":"legline"},"transform":[{"filter":"datum.p=='C' && datum.s=='n'"}],"mark":{"type":"rule","color":"#000","strokeWidth":1.8},"encoding":{"x2":{"field":"t2"}}},
{"data":{"name":"legline"},"transform":[{"filter":"datum.p=='C' && datum.s=='c2'"}],"mark":{"type":"rule","color":"#000","strokeWidth":1.8,"strokeDash":[7,4]},"encoding":{"x2":{"field":"t2"}}},
{"data":{"name":"legline"},"transform":[{"filter":"datum.p=='C' && datum.s=='c4'"}],"mark":{"type":"rule","color":"#000","strokeWidth":1.5,"strokeDash":[3,2]},"encoding":{"x2":{"field":"t2"}}},
{"data":{"name":"legmark"},"transform":[{"filter":"datum.p=='C' && datum.s=='n'"}],"mark":{"type":"point","shape":"triangle-up","filled":true,"size":20,"color":"#fff","stroke":"#8a8a8a","strokeWidth":0.8,"opacity":1}},
{"data":{"name":"legmark"},"transform":[{"filter":"datum.p=='C' && datum.s=='c2'"}],"mark":{"type":"circle","size":30,"color":"#000","opacity":1}},
{"data":{"name":"legmark"},"transform":[{"filter":"datum.p=='C' && datum.s=='c4'"}],"mark":{"type":"square","size":26,"color":"#000","opacity":1}},
{"data":{"name":"legtext"},"transform":[{"filter":"datum.p=='C'"}],"mark":{"type":"text","fontSize":22,"font":"Liberation Sans","align":"left","baseline":"middle","color":"#000"},"encoding":{"text":{"field":"text","type":"nominal"}}},
{"data":{"name":"notes"},"transform":[{"filter":"datum.p=='C'"}],"mark":{"type":"text","fontSize":21,"font":"Liberation Sans","align":"center","baseline":"middle","color":"#000"},"encoding":{"text":{"field":"text","type":"nominal"}}}
]},
{"width":363,"height":304,
"title":{"text":"D","anchor":"start","frame":"group","dx":-72,"offset":-61,"baseline":"alphabetic","fontSize":56,"fontWeight":"bold","font":"Liberation Sans","color":"#000"},
"encoding":{"x":{"field":"t","type":"quantitative","scale":{"domain":[0,10],"nice":false,"zero":false},"axis":{"values":[0,2,4,6,8,10],"format":"~r","title":"Time (hour)"}},
"y":{"field":"v","type":"quantitative","scale":{"domain":[0,1.2],"nice":false},"axis":{"values":[0,0.2,0.4,0.6,0.8,1,1.2],"format":"~r","title":"Normalized ThT fluorescence"}}},
"layer":[
{"data":{"name":"D"},"transform":[{"filter":"datum.s=='n'"}],"mark":{"type":"point","shape":"triangle-up","filled":false,"size":14,"stroke":"#8a8a8a","strokeWidth":0.8,"opacity":1}},
{"data":{"name":"D"},"transform":[{"filter":"datum.s=='nL'"}],"mark":{"type":"line","color":"#000","strokeWidth":2,"interpolate":"monotone"}},
{"data":{"name":"D"},"transform":[{"filter":"datum.s=='s'"}],"mark":{"type":"circle","size":26,"color":"#000","opacity":1}},
{"data":{"name":"D"},"transform":[{"filter":"datum.s=='sL'"}],"mark":{"type":"line","color":"#000","strokeWidth":2,"strokeDash":[8,5],"interpolate":"monotone"}},
{"data":{"name":"notes"},"transform":[{"filter":"datum.p=='D'"}],"mark":{"type":"text","fontSize":21,"font":"Liberation Sans","align":"center","baseline":"middle","color":"#000"},"encoding":{"text":{"field":"text","type":"nominal"}}}
]},
{"width":363,"height":304,
"title":{"text":"E","anchor":"start","frame":"group","dx":-65,"offset":-54,"baseline":"alphabetic","fontSize":56,"fontWeight":"bold","font":"Liberation Sans","color":"#000"},
"encoding":{"x":{"field":"t","type":"quantitative","scale":{"domain":[0,40],"nice":false,"zero":false},"axis":{"values":[0,5,10,15,20,25,30,35,40],"format":"~r","title":"Time (hour)"}},
"y":{"field":"v","type":"quantitative","scale":{"domain":[0,1],"nice":false},"axis":{"values":[0,0.2,0.4,0.6,0.8,1],"format":"~r","title":"Normalized ThT fluorescence"}}},
"layer":[
{"data":{"name":"E"},"transform":[{"filter":"datum.s=='d'"}],"mark":{"type":"line","color":"#555","strokeWidth":1.5}},
{"data":{"name":"E"},"transform":[{"filter":"datum.s=='d'"}],"mark":{"type":"point","shape":"triangle-up","filled":false,"size":12,"stroke":"#8a8a8a","strokeWidth":0.8,"opacity":1}},
{"data":{"name":"E"},"transform":[{"filter":"datum.s=='e8'"}],"mark":{"type":"line","color":"#000","strokeWidth":3.5}},
{"data":{"name":"E"},"transform":[{"filter":"datum.s=='e8'"}],"mark":{"type":"square","size":20,"color":"#000","opacity":1}},
{"data":{"name":"E"},"transform":[{"filter":"datum.s=='e4'"}],"mark":{"type":"line","color":"#000","strokeWidth":3.5}},
{"data":{"name":"E"},"transform":[{"filter":"datum.s=='e4'"}],"mark":{"type":"square","size":20,"color":"#000","opacity":1}},
{"data":{"name":"notes"},"transform":[{"filter":"datum.p=='E'"}],"mark":{"type":"text","fontSize":21,"font":"Liberation Sans","align":"center","baseline":"middle","color":"#000"},"encoding":{"text":{"field":"text","type":"nominal"}}}
]},
{"width":362,"height":304,
"title":{"text":"F","anchor":"start","frame":"group","dx":-71,"offset":-38,"baseline":"alphabetic","fontSize":56,"fontWeight":"bold","font":"Liberation Sans","color":"#000"},
"encoding":{"x":{"field":"t","type":"quantitative","scale":{"domain":[0,40],"nice":false,"zero":false},"axis":{"values":[0,5,10,15,20,25,30,35,40],"format":"~r","title":"Time (hour)"}},
"y":{"field":"v","type":"quantitative","scale":{"domain":[0,1],"nice":false},"axis":{"values":[0,0.2,0.4,0.6,0.8,1],"format":"~r","title":"Normalized ThT fluorescence"}}},
"layer":[
{"data":{"name":"F"},"transform":[{"filter":"datum.s=='c0'"}],"mark":{"type":"point","shape":"triangle-up","filled":false,"size":14,"stroke":"#8a8a8a","strokeWidth":0.8,"opacity":1}},
{"data":{"name":"F"},"transform":[{"filter":"datum.s=='c3'"}],"mark":{"type":"circle","size":26,"color":"#000","opacity":1}},
{"data":{"name":"F"},"transform":[{"filter":"datum.s=='c0L'"}],"mark":{"type":"line","color":"#000","strokeWidth":1.8}},
{"data":{"name":"F"},"transform":[{"filter":"datum.s=='c3L'"}],"mark":{"type":"line","color":"#000","strokeWidth":2,"strokeDash":[8,5]}},
{"data":{"name":"legline"},"transform":[{"filter":"datum.p=='F' && datum.s=='c0'"}],"mark":{"type":"rule","color":"#000","strokeWidth":1.8},"encoding":{"x2":{"field":"t2"}}},
{"data":{"name":"legline"},"transform":[{"filter":"datum.p=='F' && datum.s=='c3'"}],"mark":{"type":"rule","color":"#000","strokeWidth":2,"strokeDash":[8,5]},"encoding":{"x2":{"field":"t2"}}},
{"data":{"name":"legmark"},"transform":[{"filter":"datum.p=='F' && datum.s=='c0'"}],"mark":{"type":"point","shape":"triangle-up","filled":true,"size":20,"color":"#fff","stroke":"#8a8a8a","strokeWidth":0.8,"opacity":1}},
{"data":{"name":"legmark"},"transform":[{"filter":"datum.p=='F' && datum.s=='c3'"}],"mark":{"type":"circle","size":34,"color":"#000","opacity":1}},
{"data":{"name":"legtext"},"transform":[{"filter":"datum.p=='F'"}],"mark":{"type":"text","fontSize":22,"font":"Liberation Sans","align":"left","baseline":"middle","color":"#000"},"encoding":{"text":{"field":"text","type":"nominal"}}},
{"data":{"name":"notes"},"transform":[{"filter":"datum.p=='F'"}],"mark":{"type":"text","fontSize":21,"font":"Liberation Sans","align":"center","baseline":"middle","color":"#000"},"encoding":{"text":{"field":"text","type":"nominal"}}}
]}
]
}
